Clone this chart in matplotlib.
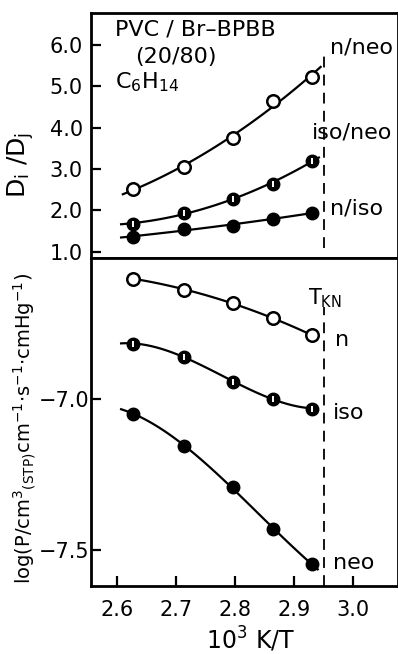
import numpy as np
import matplotlib
matplotlib.use('Agg')
import matplotlib.pyplot as plt

plt.rcParams['font.family'] = ['DejaVu Sans']
plt.rcParams['mathtext.fontset'] = 'dejavusans'

# 10^3 K/T
invT = [2.628, 2.714, 2.796, 2.864, 2.930]

# top panel: diffusivity ratios Di/Dj
r_n_neo = [2.52, 3.06, 3.74, 4.65, 5.22]
r_iso_neo = [1.68, 1.94, 2.28, 2.64, 3.20]
r_n_iso = [1.36, 1.56, 1.62, 1.80, 1.94]

# bottom panel: log P
logP_n = [-6.603, -6.641, -6.683, -6.735, -6.790]
logP_iso = [-6.818, -6.862, -6.945, -7.000, -7.033]
logP_neo = [-7.050, -7.158, -7.293, -7.431, -7.547]

T_KN = 2.95

LW = 1.6
MS = 9

fig = plt.figure(figsize=(3.98, 6.54), dpi=100)
ax1 = fig.add_axes([0.2286, 0.6055, 0.7714, 0.3746])
ax2 = fig.add_axes([0.2286, 0.104, 0.7714, 0.5015], sharex=ax1)


def fit_curve(ax, x, y, deg, x0, x1):
    c = np.polyfit(x, y, deg)
    xs = np.linspace(x0, x1, 100)
    ax.plot(xs, np.polyval(c, xs), color='black', lw=LW, zorder=2)


def open_pts(ax, x, y):
    ax.plot(x, y, 'o', ms=MS, mfc='white', mec='black', mew=1.8, ls='none', zorder=3)


def half_pts(ax, x, y):
    ax.plot(x, y, 'o', ms=MS, mfc='black', mec='black', ls='none', zorder=3)
    ax.plot(x, y, '|', ms=5, mec='white', mew=1.4, ls='none', zorder=4)


def full_pts(ax, x, y):
    ax.plot(x, y, 'o', ms=MS, mfc='black', mec='black', ls='none', zorder=3)


# top panel
fit_curve(ax1, invT, r_n_neo, 2, 2.61, 2.945)
fit_curve(ax1, invT, r_iso_neo, 2, 2.607, 2.942)
fit_curve(ax1, invT, r_n_iso, 2, 2.607, 2.935)
open_pts(ax1, invT, r_n_neo)
half_pts(ax1, invT, r_iso_neo)
full_pts(ax1, invT, r_n_iso)

# bottom panel
fit_curve(ax2, invT, logP_n, 2, 2.628, 2.94)
fit_curve(ax2, invT, logP_iso, 3, 2.607, 2.94)
fit_curve(ax2, invT, logP_neo, 3, 2.607, 2.94)
open_pts(ax2, invT, logP_n)
half_pts(ax2, invT, logP_iso)
full_pts(ax2, invT, logP_neo)

ax1.axvline(T_KN, ymin=0.04, ymax=0.84, color='black', lw=1.3, dashes=(6, 4))
ax2.axvline(T_KN, ymin=0.0, ymax=0.85, color='black', lw=1.3, dashes=(6, 4))

ax1.set_xlim(2.556, 3.076)
ax1.set_ylim(0.848, 6.774)
ax2.set_ylim(-7.62, -6.535)

ax1.set_yticks([1.0, 2.0, 3.0, 4.0, 5.0, 6.0])
ax1.set_yticklabels(['1.0', '2.0', '3.0', '4.0', '5.0', '6.0'])
ax2.set_yticks([-7.0, -7.5])
ax2.set_yticklabels(['\u22127.0', '\u22127.5'])
ax2.set_xticks([2.6, 2.7, 2.8, 2.9, 3.0])
ax2.set_xticklabels(['2.6', '2.7', '2.8', '2.9', '3.0'])

for ax in (ax1, ax2):
    for s in ax.spines.values():
        s.set_linewidth(2.0)
    ax.tick_params(direction='in', length=7, width=1.6, labelsize=15)
ax1.tick_params(axis='x', bottom=False, labelbottom=False)
ax1.tick_params(axis='y', pad=6)
ax2.tick_params(axis='y', pad=1)
ax2.tick_params(axis='x', pad=10)

# labels
ax1.text(0.078, 0.931, 'PVC / Br\u2013BPBB', transform=ax1.transAxes,
         fontsize=16, va='center', ha='left')
ax1.text(0.143, 0.82, '(20/80)', transform=ax1.transAxes,
         fontsize=16, va='center', ha='left')
ax1.text(0.078, 0.718, r'C$_6$H$_{14}$', transform=ax1.transAxes,
         fontsize=16, va='center', ha='left')
ax1.text(0.778, 0.861, 'n/neo', transform=ax1.transAxes, fontsize=16, va='center')
ax1.text(0.72, 0.514, 'iso/neo', transform=ax1.transAxes, fontsize=16, va='center')
ax1.text(0.778, 0.204, 'n/iso', transform=ax1.transAxes, fontsize=16, va='center')

ax2.text(0.707, 0.878, r'T$_{\rm KN}$', transform=ax2.transAxes, fontsize=15, va='center')
ax2.text(0.795, 0.75, 'n', transform=ax2.transAxes, fontsize=16, va='center')
ax2.text(0.788, 0.527, 'iso', transform=ax2.transAxes, fontsize=16, va='center')
ax2.text(0.788, 0.07, 'neo', transform=ax2.transAxes, fontsize=16, va='center')

fig.text(0.052, 1 - 165 / 654, r'D$_{\rm i}$ /D$_{\rm j}$', rotation=90,
         fontsize=18, ha='center', va='center')
fig.text(0.062, 1 - 428 / 654,
         r'log(P/cm$^3$$_{\rm (STP)}$cm$^{-1}$$\cdot$s$^{-1}$$\cdot$cmHg$^{-1}$)',
         rotation=90, fontsize=14, ha='center', va='center')
fig.text(0.63, 1 - 640 / 654, r'10$^3$ K/T', fontsize=17, ha='center', va='center')

fig.savefig('out.png', dpi=100)
